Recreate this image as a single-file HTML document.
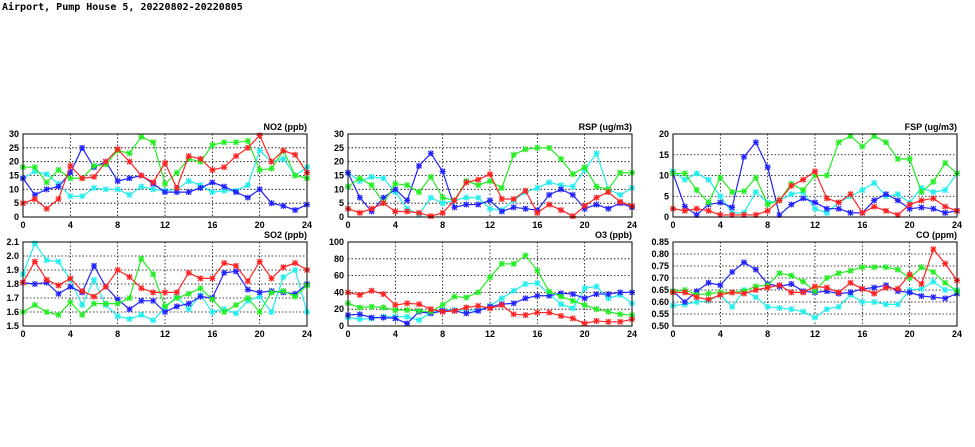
<!DOCTYPE html>
<html><head><meta charset="utf-8"><style>
body{margin:0;background:#fff;width:975px;height:447px;overflow:hidden}
svg{display:block}
text{font-family:"Liberation Sans",sans-serif;font-weight:bold;font-size:9px;fill:#000}
</style></head><body>
<svg id="s" width="975" height="447" xmlns="http://www.w3.org/2000/svg">
<text x="2" y="10" style="font-family:'DejaVu Sans Mono','Liberation Mono',monospace;font-size:10px;font-weight:bold">Airport, Pump House 5, 20220802-20220805</text>
</svg>
<script>
const S=document.getElementById('s');const NS='http://www.w3.org/2000/svg';
function el(t,a,txt){const e=document.createElementNS(NS,t);for(const k in a)e.setAttribute(k,a[k]);if(txt!==undefined)e.textContent=txt;S.appendChild(e);return e;}
const C={b:'#2222ff',c:'#22eeee',g:'#22ee22',r:'#ff2222'};
const P=[
{x0:23,x1:307,y0:134,y1:217,min:0,max:30,ticks:[0,5,10,15,20,25,30],lab:'NO2 (ppb)',dec:0,d:{
c:[14,16.5,15.5,12,7.5,7.5,10.5,10,10,8,11,10,9.5,10,13,11.5,9,9.5,9.5,11.5,24,20,21,15,18],
b:[14,8,10,11,16,25,18,20,13,14,15,12,9,9,9,10.5,12.5,11,9,7,10,5,4,2.5,4.5],
g:[18,18,12.5,17,14,14,18.5,19,24,23,29,27,12,16,21,20,26,27,27,27.5,17,17.5,24,15,14],
r:[5,6.5,3,6.5,18.5,14,14.5,20,24.5,20,15,12.5,19.5,10.5,22,21,17,18,22,25,29.5,20,24,22.5,16]}},
{x0:348,x1:632,y0:134,y1:217,min:0,max:30,ticks:[0,5,10,15,20,25,30],lab:'RSP (ug/m3)',dec:0,d:{
c:[16,13,14.5,14,9,3,1,7,5,6,7,7,3,2.5,6,9,10.5,12.5,11.5,11,17,23,10,8,10.5],
b:[16,7,2,7,10,6,18.5,23,16.5,3.5,4.5,4.5,6,2,3.5,3,2.5,8,10,8,3,4.5,3,5,3.5],
g:[11,14,11.5,5,12,11.5,9,14.5,7,6,13,11.5,13,10.5,22.5,24.5,25,25,21,15.5,18,11,10,16,16],
r:[3,1.5,3,5,2,2,1.5,0.3,1.5,6,12.5,13.5,15.5,6.5,6.5,9.5,1.5,4.5,2.5,0.3,4,7,9,5.5,4]}},
{x0:673,x1:957,y0:134,y1:217,min:0,max:20,ticks:[0,5,10,15,20],lab:'FSP (ug/m3)',dec:0,d:{
c:[11,9,10.5,9,5,1,1,6,3.5,4,5.5,6,2,1,3.5,5,6.5,8.2,5,5.5,3.5,7,6,6.5,10.5],
b:[10.5,2.5,0.5,3,3.5,2.3,14.5,18,12,0.5,3,4.5,3.5,2,2,1,1,4,5.5,4,2,2.3,2,1,1.5],
g:[10.5,10.5,6.5,3.5,9.5,6,6.2,9.5,3,4,8,6.5,10,10,18,19.5,17,19.5,18,14,14,6,8.5,13,10.5],
r:[2,1.5,2,1.5,0.5,0.5,0.5,0.5,1.5,4,7.5,9,11,4.5,3.5,5.5,1,2.5,1.5,0.5,3,4,4.5,2.5,1.5]}},
{x0:23,x1:307,y0:242,y1:326,min:1.5,max:2.1,ticks:[1.5,1.6,1.7,1.8,1.9,2.0,2.1],lab:'SO2 (ppb)',dec:1,d:{
c:[1.87,2.09,1.97,1.96,1.83,1.65,1.83,1.65,1.57,1.55,1.58,1.54,1.63,1.71,1.62,1.72,1.60,1.62,1.59,1.68,1.71,1.60,1.85,1.90,1.60],
b:[1.81,1.80,1.81,1.73,1.78,1.74,1.93,1.78,1.69,1.62,1.68,1.68,1.60,1.64,1.66,1.71,1.70,1.88,1.89,1.76,1.74,1.75,1.74,1.73,1.80],
g:[1.60,1.65,1.60,1.58,1.67,1.58,1.66,1.66,1.66,1.70,1.98,1.87,1.64,1.70,1.73,1.77,1.69,1.60,1.65,1.70,1.60,1.74,1.75,1.71,1.79],
r:[1.81,1.96,1.83,1.79,1.84,1.75,1.71,1.78,1.90,1.85,1.77,1.74,1.74,1.74,1.88,1.84,1.84,1.95,1.93,1.82,1.96,1.84,1.92,1.95,1.90]}},
{x0:348,x1:632,y0:242,y1:326,min:0,max:100,ticks:[0,20,40,60,80,100],lab:'O3 (ppb)',dec:0,d:{
c:[10,8,9,11,11,11,7,16,19,19,19,19,24,33,42,50,51,38,26,21,45,47,33,37,27],
b:[13,14,10,10,9,3,17,15,18,18,15,18,23,26,27,33,36,36,39,38,33,38,38,40,40],
g:[27,22,23,22,19,19,18,17,25,35,34,40,58,74,74,84,66,41,35,30,25,20,17,14,13],
r:[40,37,42,38,25,27,26,20,17,18,22,24,21,25,14,13,16,16,12,9,3,6,5,5,8]}},
{x0:673,x1:957,y0:242,y1:326,min:0.5,max:0.85,ticks:[0.5,0.55,0.6,0.65,0.7,0.75,0.8,0.85],lab:'CO (ppm)',dec:2,d:{
c:[.585,.59,.60,.605,.63,.58,.65,.62,.58,.575,.57,.56,.535,.57,.58,.63,.60,.60,.59,.59,.65,.655,.685,.65,.65],
b:[.645,.60,.645,.68,.67,.725,.765,.735,.675,.665,.675,.645,.64,.645,.635,.64,.655,.66,.67,.645,.64,.625,.62,.615,.635],
g:[.645,.65,.63,.635,.64,.64,.645,.665,.67,.72,.71,.685,.645,.70,.72,.73,.745,.745,.745,.735,.70,.745,.725,.68,.645],
r:[.64,.64,.62,.61,.63,.64,.635,.65,.66,.67,.64,.64,.665,.66,.64,.68,.655,.635,.66,.655,.715,.675,.82,.76,.69]}}
];
for(const p of P){
 const X=h=>p.x0+(p.x1-p.x0)*h/24, Y=v=>p.y1-(p.y1-p.y0)*(v-p.min)/(p.max-p.min);
 for(const t of p.ticks){const y=Y(t);
  if(t!==p.min&&t!==p.max)el('line',{x1:p.x0,x2:p.x1,y1:y,y2:y,stroke:'#000','stroke-width':0.8,'stroke-dasharray':'1.5,2'});
  el('text',{x:p.x0-4,y:y+3,'text-anchor':'end'},t.toFixed(p.dec));}
 for(let h=0;h<=24;h+=4){const x=X(h);
  if(h>0&&h<24)el('line',{x1:x,x2:x,y1:p.y0,y2:p.y1,stroke:'#000','stroke-width':0.8,'stroke-dasharray':'1.5,2'});
  el('text',{x:x,y:p.y1+11,'text-anchor':'middle'},h);}
 for(const k of ['c','b','g','r']){const a=p.d[k];
  el('polyline',{points:a.map((v,i)=>X(i)+','+Y(v)).join(' '),fill:'none',stroke:C[k],'stroke-width':1.2});
  a.forEach((v,i)=>{const x=X(i),y=Y(v);
   el('path',{d:`M${x-2.5},${y-2.5}L${x+2.5},${y+2.5}M${x-2.5},${y+2.5}L${x+2.5},${y-2.5}M${x-3},${y}H${x+3}M${x},${y-3}V${y+3}`,stroke:C[k],'stroke-width':1.2,fill:'none'});});}
 el('rect',{x:p.x0,y:p.y0,width:p.x1-p.x0,height:p.y1-p.y0,fill:'none',stroke:'#000','stroke-width':1});
 el('text',{x:p.x1,y:p.y0-4,'text-anchor':'end'},p.lab);
}
</script>
</body></html>
